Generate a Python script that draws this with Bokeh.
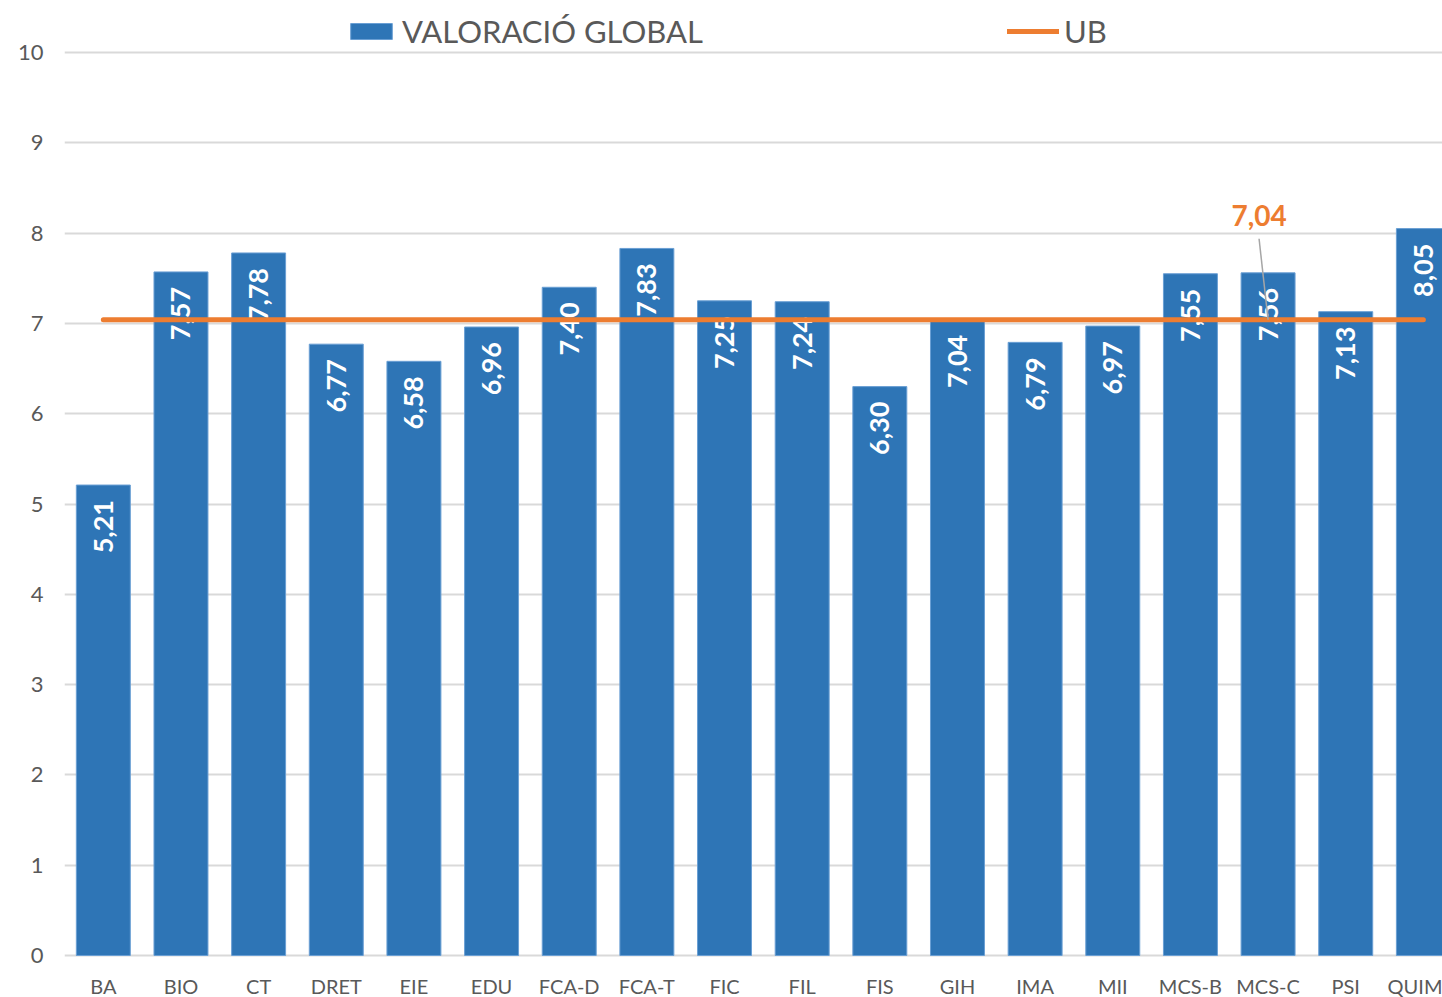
import numpy as np
from bokeh.plotting import figure
from bokeh.models import Range1d, FixedTicker, Legend, LegendItem, ColumnDataSource
from bokeh.core.properties import value
from bokeh.embed import file_html
from bokeh.resources import INLINE

categories = ["BA", "BIO", "CT", "DRET", "EIE", "EDU", "FCA-D", "FCA-T", "FIC", "FIL",
              "FIS", "GIH", "IMA", "MII", "MCS-B", "MCS-C", "PSI", "QUIM"]
valoracio = [5.21, 7.57, 7.78, 6.77, 6.58, 6.96, 7.40, 7.83, 7.25, 7.24,
             6.30, 7.04, 6.79, 6.97, 7.55, 7.56, 7.13, 8.05]
ub = [7.04] * len(categories)
ub_label_index = 15
y_ticks = list(range(0, 11))

FONT = "Lato"
W, H = 1442, 997
BORDER_L = 64
frame_w = W - BORDER_L
frame_h = H

px_per_x = 77.65
px_per_y = 90.3
x_start = -0.5
x_end = x_start + frame_w / px_per_x
y_end = 10 + 52 / px_per_y
y_start = y_end - frame_h / px_per_y

x = np.arange(len(categories))

p = figure(width=W, height=H, output_backend="svg", toolbar_location=None,
           x_range=Range1d(x_start, x_end), y_range=Range1d(y_start, y_end),
           min_border_left=BORDER_L, min_border_bottom=0,
           min_border_top=0, min_border_right=0)
p.outline_line_color = None
p.background_fill_color = "white"
p.border_fill_color = "white"

src = ColumnDataSource(dict(x=x, v=valoracio, ub=ub,
                            lab=[f"{v:.2f}".replace(".", ",") for v in valoracio]))

bars = p.vbar(x="x", top="v", bottom=0, width=0.695, source=src, fill_color="#2E75B6",
              line_color="#6A9FD4", line_width=1)
p.text(x="x", y="v", text="lab", source=src, angle=np.pi / 2, text_align="right",
       text_baseline="middle", y_offset=15, text_color="white",
       text_font=value(FONT), text_font_style="bold", text_font_size="27px")
line = p.line(x="x", y="ub", source=src, line_color="#ED7D31", line_width=5,
              line_cap="round")

# callout for UB value
cx = x[ub_label_index]
cy = ub[ub_label_index]
p.segment(x0=[cx], y0=[cy], x1=[cx - 9 / px_per_x], y1=[cy + 81 / px_per_y],
          line_color="#A6A6A6", line_width=1.5)
p.text(x=[cx], y=[cy], text=[f"{ub[ub_label_index]:.2f}".replace(".", ",")],
       x_offset=-9, y_offset=-104, text_align="center", text_baseline="middle",
       text_color="#ED7D31", text_font=value(FONT), text_font_style="bold",
       text_font_size="28px")

# axes
p.yaxis.ticker = FixedTicker(ticks=y_ticks)
p.xaxis.ticker = FixedTicker(ticks=list(x))
p.xaxis.fixed_location = 0
p.xaxis.major_label_overrides = {int(i): c for i, c in zip(x, categories)}
for ax in (p.xaxis, p.yaxis):
    ax.axis_line_color = None
    ax.major_tick_line_color = None
    ax.minor_tick_line_color = None
    ax.major_label_text_color = "#595959"
    ax.major_label_text_font = FONT
p.xaxis.major_label_text_font_size = "20px"
p.yaxis.major_label_text_font_size = "22px"
p.yaxis.major_label_standoff = 15
p.xaxis.major_label_standoff = 12
p.xgrid.grid_line_color = None
p.ygrid.grid_line_color = "#D9D9D9"
p.ygrid.grid_line_width = 2

legend = Legend(items=[LegendItem(label="VALORACIÓ GLOBAL", renderers=[bars]),
                       LegendItem(label="UB", renderers=[line])],
                orientation="horizontal", location=(281, frame_h - 50),
                glyph_width=52, glyph_height=20, label_standoff=5, spacing=304,
                padding=0, margin=0, border_line_color=None,
                background_fill_alpha=0, label_text_font=FONT,
                label_text_font_size="31px", label_text_color="#595959")
p.add_layout(legend, "center")

open("out.html", "w").write(file_html(p, INLINE))
